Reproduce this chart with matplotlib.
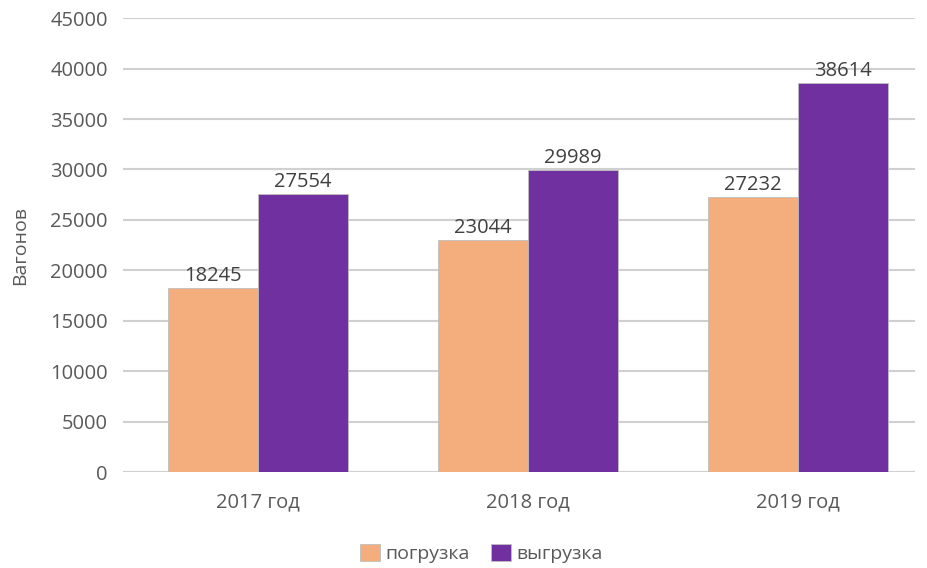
import numpy as np
import matplotlib.pyplot as plt

plt.rcParams['font.family'] = ['Open Sans', 'DejaVu Sans']

# Data
years = ['2017 год', '2018 год', '2019 год']
loading = [18245, 23044, 27232]
unloading = [27554, 29989, 38614]
c_load = '#F4AE7E'
c_unload = '#7030A0'
text_col = '#595959'

fig = plt.figure(figsize=(9.28, 5.68), dpi=100)
ax = fig.add_axes([0.1325, 0.169, 0.8535, 0.799])

x = np.arange(len(years))
w = 0.333
b1 = ax.bar(x - w / 2, loading, w, color=c_load, edgecolor='#BFBFBF', linewidth=0.6,
            label='погрузка', zorder=3)
b2 = ax.bar(x + w / 2, unloading, w, color=c_unload, edgecolor='#BFBFBF', linewidth=0.6,
            label='выгрузка', zorder=3)

for bars in (b1, b2):
    for r in bars:
        h = r.get_height()
        ax.text(r.get_x() + r.get_width() / 2, h + 200, str(h), ha='center', va='bottom',
                fontsize=14.5, color='#404040')

ax.set_xlim(-0.5, 2.433)
ax.set_ylim(0, 45000)
ax.set_yticks(np.arange(0, 45001, 5000))
ax.yaxis.grid(True, color='#D0D0D0', linewidth=1.5, zorder=0)
ax.set_axisbelow(True)
for s in ax.spines.values():
    s.set_visible(False)
ax.tick_params(axis='both', length=0, labelsize=14.5, colors=text_col)
ax.tick_params(axis='y', pad=11)
ax.tick_params(axis='x', pad=15)
ax.set_xticks(x)
ax.set_xticklabels(years)
ax.set_ylabel('Вагонов', fontsize=14, color=text_col, labelpad=15)

fig.legend(handles=[b1, b2], loc='center', bbox_to_anchor=(0.519, 0.026), ncol=2, frameon=False,
           fontsize=14, labelcolor=text_col, handlelength=1.0, handleheight=1.0,
           handletextpad=0.3, columnspacing=1.1)

fig.savefig('out.png', dpi=100)
